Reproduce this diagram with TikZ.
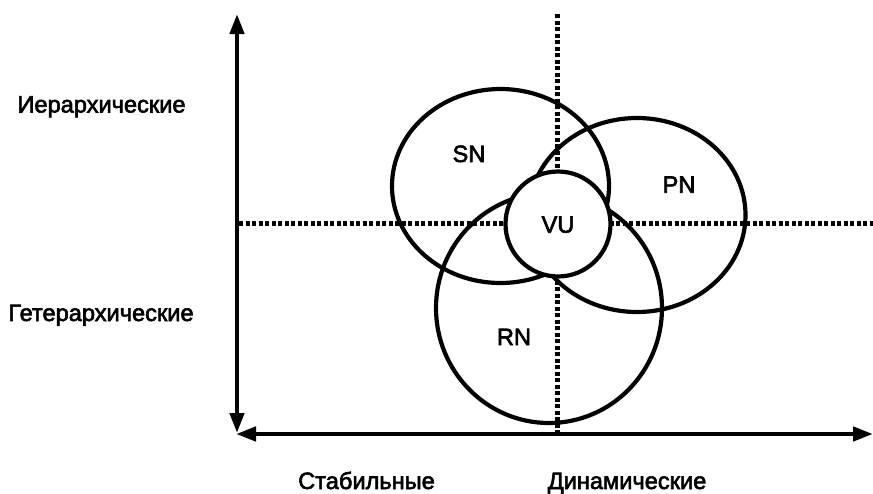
\documentclass[tikz,border=0pt]{standalone}
\usepackage{fontspec}
\setmainfont{Liberation Sans}
\newfontfamily\heavysans[FakeBold=2.5]{Liberation Sans}
\usetikzlibrary{shapes.geometric,arrows.meta}
\begin{document}
\begin{tikzpicture}[x=1pt,y=-1pt,
  axis/.style={line width=4.4pt, {Triangle[length=20pt,width=14pt]}-{Triangle[length=20pt,width=14pt]}},
  gridline/.style={line width=4.5pt, dash pattern=on 4pt off 2.5pt},
  oval/.style={ellipse, draw, line width=4.2pt, minimum width=217pt, minimum height=194pt, inner sep=0pt},
  circ/.style={circle, draw, fill=white, line width=4.2pt, minimum size=105pt, inner sep=0pt},
  lbl/.style={font=\heavysans\fontsize{23.6}{28}\selectfont, inner sep=0pt, anchor=base},
]
\useasboundingbox (0,0) rectangle (873,493);
% coordinates
\coordinate (ytop) at (237,14);
\coordinate (ybot) at (237,433);
\coordinate (xleft) at (236,434);
\coordinate (xright) at (873,434);
\coordinate (vtop) at (557.7,14);
\coordinate (vbot) at (557.7,432);
\coordinate (hleft) at (239,223.5);
\coordinate (hright) at (873,223.5);
% dotted lines
\draw[gridline] (vtop) -- (vbot);
\draw[gridline] (hleft) -- (hright);
% axes
\draw[axis] (ytop) -- (ybot);
\draw[axis] (xleft) -- (xright);
% ellipses
\node[oval] (SNe) at (500.5,186) {};
\node[oval] (PNe) at (637,215) {};
\node[oval, minimum width=226pt, minimum height=230pt] (RNe) at (549,308) {};
\node[circ] (VUc) at (558,224) {};
% labels
\node[lbl] (SN) at (469,162) {SN};
\node[lbl] (PN) at (679,192.7) {PN};
\node[lbl] (VU) at (558,232.7) {VU};
\node[lbl] (RN) at (514,345) {RN};
\node[lbl] (hier) at (101.5,112.5) {Иерархические};
\node[lbl] (heter) at (101,321) {Гетерархические};
\node[lbl] (stab) at (366.5,489) {Стабильные};
\node[lbl] (dyn) at (627,489) {Динамические};
\end{tikzpicture}
\end{document}
